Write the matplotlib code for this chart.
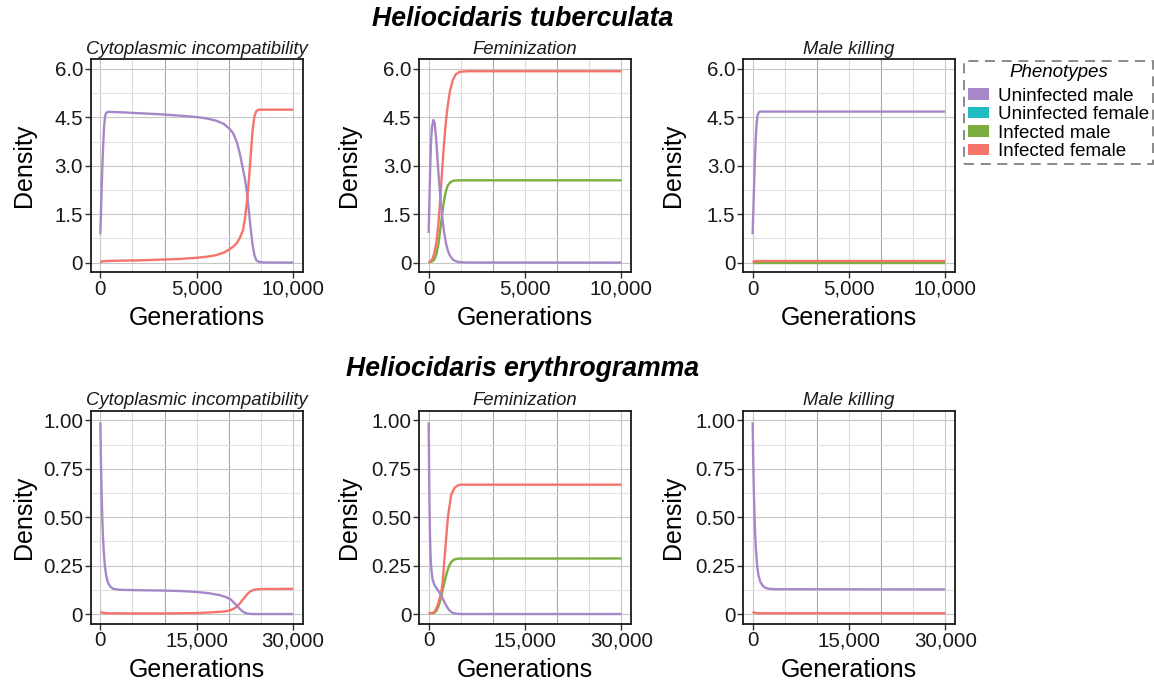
import numpy as np
import matplotlib
matplotlib.use("Agg")
import matplotlib.pyplot as plt
from matplotlib.patches import Patch
from matplotlib.ticker import FuncFormatter

plt.rcParams['font.family'] = ['Liberation Sans', 'DejaVu Sans']

phenotypes = ["Uninfected male", "Uninfected female", "Infected male", "Infected female"]
colors = ["#A688C9", "#1FBDC1", "#7AAE3F", "#F4746B"]
mechanisms = ["Cytoplasmic incompatibility", "Feminization", "Male killing"]
species = ["Heliocidaris tuberculata", "Heliocidaris erythrogramma"]

# --- H. tuberculata, cytoplasmic incompatibility ---
tub_ci_um_gen = [0, 50, 100, 150, 200, 250, 320, 400, 1000, 2000, 3000, 4000, 5000, 5500, 6000,
                 6400, 6700, 6900, 7100, 7250, 7400, 7500, 7600, 7700, 7800, 7900, 8000, 8100,
                 8250, 8500, 10000]
tub_ci_um = [0.88, 1.9, 2.9, 3.7, 4.25, 4.55, 4.65, 4.67, 4.66, 4.63, 4.60, 4.56, 4.51, 4.47, 4.40,
             4.30, 4.15, 4.0, 3.7, 3.35, 2.9, 2.6, 2.2, 1.65, 1.05, 0.55, 0.22, 0.07,
             0.02, 0.005, 0.0]
tub_ci_if_gen = [0, 100, 300, 1000, 2000, 3000, 4000, 5000, 5500, 6000, 6400, 6700, 6900, 7100,
                 7250, 7400, 7500, 7600, 7700, 7800, 7900, 8000, 8100, 8250, 8500, 10000]
tub_ci_if = [0.0, 0.04, 0.05, 0.06, 0.07, 0.09, 0.11, 0.15, 0.18, 0.23, 0.31, 0.41, 0.5, 0.62,
             0.78, 1.0, 1.35, 1.85, 2.5, 3.3, 4.1, 4.55, 4.7, 4.74, 4.74, 4.74]

# --- H. tuberculata, feminization ---
tub_fem_um_gen = [0, 40, 80, 120, 170, 250, 300, 350, 400, 460, 530, 610, 700, 800, 900, 1000,
                  1100, 1250, 1400, 1600, 2000, 10000]
tub_fem_um = [0.92, 1.9, 2.9, 3.7, 4.2, 4.42, 4.35, 4.1, 3.75, 3.2, 2.6, 2.0, 1.45, 0.95, 0.6,
              0.37, 0.22, 0.1, 0.045, 0.015, 0.003, 0.0]
tub_fem_im_gen = [0, 200, 300, 400, 500, 600, 700, 800, 900, 1000, 1150, 1300, 1600, 10000]
tub_fem_im = [0.0, 0.04, 0.1, 0.25, 0.55, 1.0, 1.5, 1.92, 2.22, 2.4, 2.5, 2.54, 2.55, 2.55]
tub_fem_if_gen = [0, 100, 200, 300, 400, 500, 600, 700, 800, 900, 1000, 1100, 1250, 1400, 1600,
                  2000, 10000]
tub_fem_if = [0.0, 0.04, 0.12, 0.3, 0.62, 1.15, 1.95, 2.85, 3.7, 4.4, 4.9, 5.3, 5.65, 5.83, 5.91,
              5.93, 5.93]

# --- H. tuberculata, male killing ---
tub_mk_um_gen = [0, 50, 100, 150, 200, 250, 320, 400, 10000]
tub_mk_um = [0.88, 1.9, 2.9, 3.7, 4.25, 4.55, 4.66, 4.68, 4.68]
tub_mk_im_gen = [0, 10000]
tub_mk_im = [0.0, 0.0]
tub_mk_if_gen = [0, 60, 150, 10000]
tub_mk_if = [0.0, 0.03, 0.05, 0.05]

# --- H. erythrogramma, cytoplasmic incompatibility ---
ery_ci_um_gen = [0, 100, 200, 300, 400, 500, 700, 900, 1200, 1600, 2000, 3000, 6000, 10000, 13000,
                 15000, 17000, 18500, 19500, 20300, 21000, 21600, 22200, 22800, 23500, 30000]
ery_ci_um = [0.99, 0.78, 0.62, 0.5, 0.41, 0.34, 0.25, 0.2, 0.16, 0.14, 0.13, 0.125, 0.123, 0.121,
             0.118, 0.114, 0.107, 0.098, 0.088, 0.075, 0.052, 0.03, 0.012, 0.003, 0.0, 0.0]
ery_ci_if_gen = [0, 300, 1000, 5000, 10000, 15000, 17000, 18500, 19500, 20300, 21000, 21600,
                 22200, 22800, 23400, 24000, 25000, 30000]
ery_ci_if = [0.012, 0.007, 0.004, 0.003, 0.003, 0.005, 0.008, 0.011, 0.014, 0.02, 0.032, 0.05,
             0.075, 0.1, 0.118, 0.126, 0.129, 0.13]

# --- H. erythrogramma, feminization ---
ery_fem_um_gen = [0, 100, 200, 300, 400, 600, 900, 1200, 1600, 2000, 2400, 2800, 3200, 3600, 4200,
                  5000, 30000]
ery_fem_um = [0.99, 0.65, 0.42, 0.3, 0.24, 0.18, 0.15, 0.135, 0.115, 0.095, 0.065, 0.04, 0.02,
              0.008, 0.002, 0.0, 0.0]
ery_fem_im_gen = [0, 800, 1200, 1600, 2000, 2400, 2800, 3200, 3600, 4000, 4600, 30000]
ery_fem_im = [0.005, 0.005, 0.015, 0.045, 0.095, 0.155, 0.21, 0.25, 0.272, 0.282, 0.286, 0.287]
ery_fem_if_gen = [0, 600, 1000, 1400, 1800, 2000, 2200, 2500, 3000, 3500, 4000, 4500, 5000, 30000]
ery_fem_if = [0.005, 0.004, 0.015, 0.045, 0.09, 0.12, 0.17, 0.3, 0.5, 0.615, 0.65, 0.664, 0.668,
              0.668]

# --- H. erythrogramma, male killing ---
ery_mk_um_gen = [0, 100, 200, 300, 400, 500, 700, 900, 1200, 1600, 2000, 2600, 3500, 30000]
ery_mk_um = [0.99, 0.78, 0.62, 0.5, 0.41, 0.34, 0.25, 0.2, 0.165, 0.145, 0.135, 0.13, 0.128, 0.127]
ery_mk_if_gen = [0, 300, 1000, 30000]
ery_mk_if = [0.012, 0.006, 0.004, 0.004]

panels = [
    # (row, col, xmax, ymax, yticks, curves[(gen, dens, phenotype index)])
    (0, 0, 10000, 6.0, [0, 1.5, 3.0, 4.5, 6.0],
     [(tub_ci_um_gen, tub_ci_um, 0), (tub_ci_if_gen, tub_ci_if, 3)]),
    (0, 1, 10000, 6.0, [0, 1.5, 3.0, 4.5, 6.0],
     [(tub_fem_im_gen, tub_fem_im, 2), (tub_fem_if_gen, tub_fem_if, 3), (tub_fem_um_gen, tub_fem_um, 0)]),
    (0, 2, 10000, 6.0, [0, 1.5, 3.0, 4.5, 6.0],
     [(tub_mk_um_gen, tub_mk_um, 0), (tub_mk_im_gen, tub_mk_im, 2), (tub_mk_if_gen, tub_mk_if, 3)]),
    (1, 0, 30000, 1.0, [0, 0.25, 0.5, 0.75, 1.0],
     [(ery_ci_if_gen, ery_ci_if, 3), (ery_ci_um_gen, ery_ci_um, 0)]),
    (1, 1, 30000, 1.0, [0, 0.25, 0.5, 0.75, 1.0],
     [(ery_fem_im_gen, ery_fem_im, 2), (ery_fem_if_gen, ery_fem_if, 3), (ery_fem_um_gen, ery_fem_um, 0)]),
    (1, 2, 30000, 1.0, [0, 0.25, 0.5, 0.75, 1.0],
     [(ery_mk_um_gen, ery_mk_um, 0), (ery_mk_if_gen, ery_mk_if, 3)]),
]

W, H = 1154, 684
fig = plt.figure(figsize=(W / 100, H / 100), dpi=100)

col_left = [90.7, 419.0, 743.0]
row_top = [59.3, 410.7]
ax_w, ax_h = 212.0, 213.0


def ytick_fmt(v, pos, ymax):
    if v == 0:
        return "0"
    return f"{v:.1f}" if ymax > 1 else f"{v:.2f}"


for row, col, xmax, ymax, yticks, curves in panels:
    ax = fig.add_axes([col_left[col] / W, 1 - (row_top[row] + ax_h) / H, ax_w / W, ax_h / H])
    ax.set_xlim(-0.05 * xmax, 1.05 * xmax)
    ax.set_ylim(-0.05 * ymax, 1.05 * ymax)

    # grid: sixths of the generation range, light minor and darker thirds
    for i, gx in enumerate(np.linspace(0, xmax, 7)):
        if i in (2, 4):
            c = "#a8a8a8"
        elif i in (0, 6):
            c = "#c6c6c6"
        else:
            c = "#dcdcdc"
        ax.axvline(gx, color=c, lw=0.8, zorder=0)
    for i, gy in enumerate(np.linspace(0, ymax, 9)):
        c = "#c6c6c6" if i % 2 == 0 else "#e2e2e2"
        ax.axhline(gy, color=c, lw=0.8, zorder=0)

    for gen, dens, k in curves:
        ax.plot(gen, dens, color=colors[k], lw=1.7, solid_capstyle="butt", zorder=2)

    ax.set_xticks([0, xmax / 2, xmax])
    ax.xaxis.set_major_formatter(FuncFormatter(lambda v, p: f"{int(v):,}"))
    ax.set_yticks(yticks)
    ax.yaxis.set_major_formatter(FuncFormatter(lambda v, p, m=ymax: ytick_fmt(v, p, m)))
    ax.tick_params(labelsize=14.8, length=4, width=1, color="#333333", labelcolor="#1a1a1a", pad=1.5)
    for s in ax.spines.values():
        s.set_linewidth(1.3)
        s.set_color("#1a1a1a")

    ax.set_title(mechanisms[col], fontsize=13.3, style="italic", color="#1a1a1a", pad=4)
    ax.set_xlabel("Generations", fontsize=18, color="black")
    ax.set_ylabel("Density", fontsize=18, color="black")
    ax.xaxis.set_label_coords(0.5, -0.16)
    ax.yaxis.set_label_coords(-0.26 if col == 0 else -0.275, 0.5)

fig.text(523 / W, 1 - 19 / H, species[0], ha="center", va="center",
         fontsize=19.2, weight="bold", style="italic")
fig.text(523 / W, 1 - 369 / H, species[1], ha="center", va="center",
         fontsize=19.2, weight="bold", style="italic")

handles = [Patch(facecolor=c, edgecolor="none", label=p) for c, p in zip(colors, phenotypes)]
leg = fig.legend(handles=handles, title="Phenotypes", loc="upper left",
                 bbox_to_anchor=(964 / W, 1 - 60.7 / H), borderaxespad=0,
                 fontsize=13.5, title_fontproperties={"style": "italic", "size": 13.5},
                 fancybox=False, frameon=True, handlelength=1.15, handleheight=0.55,
                 labelspacing=0.08, handletextpad=0.45, borderpad=0.2)
# a little more room between the title and the entries
leg._legend_box.sep = 4.5
frame = leg.get_frame()
frame.set_linestyle((0, (6, 4)))
frame.set_edgecolor("#555555")
frame.set_linewidth(1.2)

fig.savefig("out.png", dpi=100)
